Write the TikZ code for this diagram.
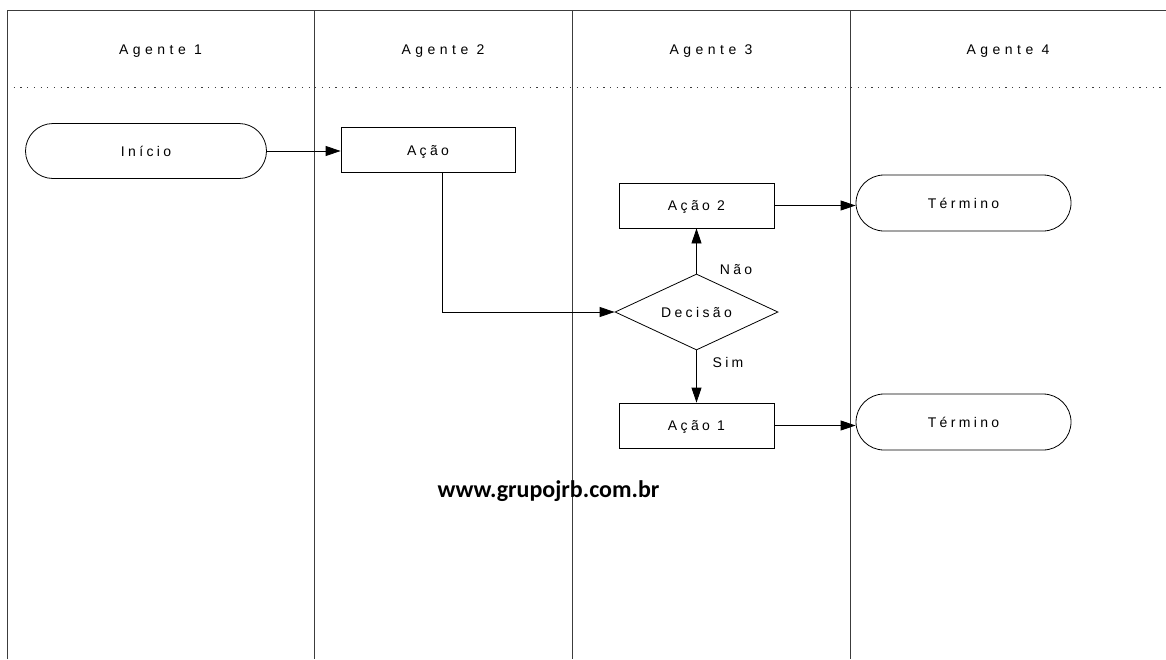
\documentclass[tikz,border=0pt]{standalone}
\usepackage{fontspec}
\setmainfont{Liberation Sans}
\newfontfamily\lanefont[LetterSpace=24]{Liberation Sans}
\newfontfamily\headfont[LetterSpace=32]{Liberation Sans}
\newfontfamily\sitefont{Carlito}
\usepackage{xcolor}
\definecolor{laneline}{RGB}{60,60,60}
\usepackage{tikz}
\usetikzlibrary{
    shapes.geometric,
    shapes.misc,
    arrows.meta,
    positioning
}

\begin{document}
\begin{tikzpicture}[x=1pt,y=-1pt,line width=0.8pt,
    flowtext/.style={font=\lanefont\fontsize{14}{16}\selectfont,text height=10pt,text depth=0pt},
    headtext/.style={font=\headfont\fontsize{14}{16}\selectfont,text height=10pt,text depth=0pt},
    terminal/.style={flowtext,draw,rounded rectangle,minimum width=215pt,minimum height=56pt,inner sep=0pt},
    acaobox/.style={flowtext,draw,rectangle,minimum width=155pt,minimum height=45pt,inner sep=0pt},
    decisao/.style={flowtext,draw,diamond,aspect=2.2,minimum width=163pt,minimum height=76pt,inner sep=0pt},
    fluxo/.style={-{Triangle[length=15pt,width=10pt]},line width=0.8pt}]
    \useasboundingbox (0,0) rectangle (1166,659);

    \draw[laneline] (7,659) -- (7,10) -- (1166,10);
    \foreach \x in {314,572,850}
        \draw[laneline] (\x,10) -- (\x,659);
    \draw[laneline,dash pattern=on 1.2pt off 5.5pt] (7,87) -- (1166,87);

    \node[headtext] (agente1) at (160.5,49) {Agente 1};
    \node[headtext] (agente2) at (443,49) {Agente 2};
    \node[headtext] (agente3) at (711,49) {Agente 3};
    \node[headtext] (agente4) at (1008,49) {Agente 4};

    \node[terminal,minimum width=241pt,minimum height=55pt] (inicio) at (146,151) {Início};
    \node[acaobox,minimum width=174pt] (acao) at (428,150) {Ação};
    \node[decisao] (decisao) at (696.5,312) {Decisão};
    \node[acaobox] (acao2) at (696.5,205.5) {Ação 2};
    \node[acaobox] (acao1) at (696.5,425.5) {Ação 1};
    \node[terminal] (termino2) at (963.5,203) {Término};
    \node[terminal] (termino1) at (963.5,422) {Término};

    \node[flowtext] (nao) at (736,269) {Não};
    \node[flowtext] (sim) at (728,362) {Sim};

    \draw[fluxo] (inicio.east) -- (inicio.east -| acao.west);
    \draw[fluxo] ([xshift=14pt]acao.south) |- (decisao.west);
    \draw[fluxo] (decisao.north) -- (acao2.south);
    \draw[fluxo] (decisao.south) -- (acao1.north);
    \draw[fluxo] (acao2.east) -- (acao2.east -| termino2.west);
    \draw[fluxo] (acao1.east) -- (acao1.east -| termino1.west);

    \node[font=\sitefont\bfseries\fontsize{24}{28}\selectfont,anchor=base] (site) at (548.5,497) {www.grupojrb.com.br};
\end{tikzpicture}
\end{document}
